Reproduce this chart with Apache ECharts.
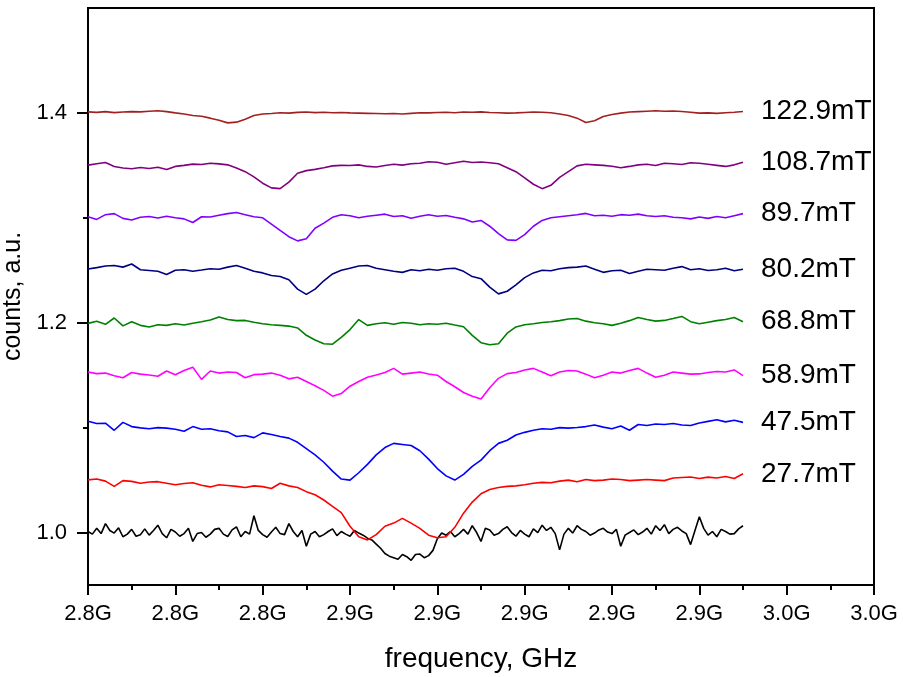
<!DOCTYPE html>
<html><head><meta charset="utf-8">
<script src="https://cdn.jsdelivr.net/npm/echarts@6/dist/echarts.min.js"></script>
<style>html,body{margin:0;padding:0;background:#fff}#c{width:903px;height:677px}</style>
</head><body><div id="c"></div>
<script>
// frequency grids (GHz) start at 2.800 and end at 2.950
const freqStart = 2.800;
const freqStepCoarse = 0.002;
const freqStepFine = 0.001;

// 0 mT trace, sampled every 0.001 GHz
const s_0mT = [1.0010,0.9985,1.0040,0.9990,1.0085,1.0020,0.9995,1.0045,0.9960,0.9985,1.0030,0.9965,0.9980,1.0035,0.9975,1.0020,1.0070,0.9990,0.9950,1.0030,1.0005,0.9965,0.9990,1.0040,0.9915,0.9990,1.0000,0.9955,0.9985,1.0030,1.0040,0.9985,0.9962,1.0025,1.0055,0.9960,1.0010,0.9985,1.0160,1.0020,0.9980,0.9955,1.0005,1.0050,0.9990,0.9980,1.0085,1.0010,0.9960,1.0020,0.9870,0.9985,1.0010,0.9960,0.9980,1.0010,1.0035,0.9970,1.0010,0.9985,0.9965,1.0020,0.9995,0.9975,0.9946,0.9930,0.9890,0.9850,0.9800,0.9775,0.9760,0.9745,0.9790,0.9770,0.9735,0.9790,0.9795,0.9760,0.9780,0.9830,0.9940,0.9995,0.9975,1.0010,0.9960,0.9990,1.0030,0.9985,1.0065,1.0000,0.9915,1.0040,1.0025,0.9975,0.9990,1.0030,1.0055,1.0000,0.9965,1.0020,0.9985,0.9960,1.0035,1.0000,1.0070,1.0020,1.0050,0.9990,0.9835,0.9985,1.0040,0.9995,1.0065,1.0030,1.0010,0.9975,0.9995,1.0025,1.0040,1.0005,0.9990,1.0030,0.9870,0.9975,1.0000,1.0025,0.9980,1.0005,1.0040,0.9985,1.0065,1.0020,1.0075,0.9990,1.0030,1.0050,1.0015,0.9990,0.9885,1.0020,1.0150,1.0040,0.9975,1.0010,0.9960,1.0030,1.0010,0.9985,0.9990,1.0035,1.0065];
// other traces, sampled every 0.002 GHz
const s_27_7 = [1.0502,1.0510,1.0490,1.0440,1.0495,1.0488,1.0470,1.0482,1.0485,1.0470,1.0455,1.0468,1.0475,1.0450,1.0435,1.0455,1.0448,1.0440,1.0430,1.0445,1.0438,1.0420,1.0470,1.0445,1.0430,1.0390,1.0360,1.0310,1.0250,1.0190,1.0060,0.9960,0.9930,0.9980,1.0060,1.0090,1.0135,1.0090,1.0040,0.9975,0.9950,0.9960,1.0050,1.0185,1.0290,1.0370,1.0410,1.0430,1.0440,1.0445,1.0455,1.0470,1.0478,1.0475,1.0490,1.0500,1.0485,1.0505,1.0495,1.0500,1.0510,1.0505,1.0495,1.0500,1.0505,1.0500,1.0495,1.0520,1.0525,1.0530,1.0515,1.0528,1.0520,1.0535,1.0515,1.0560];
const s_47_5 = [1.1060,1.1040,1.1042,1.0975,1.1050,1.1010,1.0998,1.0990,1.1000,1.0995,1.0985,1.0965,1.1010,1.0985,1.0990,1.0970,1.0960,1.0915,1.0925,1.0905,1.0950,1.0935,1.0915,1.0900,1.0860,1.0800,1.0740,1.0670,1.0585,1.0510,1.0500,1.0570,1.0650,1.0740,1.0810,1.0850,1.0840,1.0830,1.0780,1.0700,1.0610,1.0540,1.0500,1.0555,1.0630,1.0690,1.0780,1.0850,1.0880,1.0930,1.0955,1.0975,1.0990,1.0985,1.1000,1.0995,1.1002,1.1010,1.1025,1.1005,1.0990,1.1015,1.0975,1.1030,1.1020,1.1035,1.1030,1.1040,1.1025,1.1020,1.1045,1.1060,1.1075,1.1055,1.1070,1.1050];
const s_58_9 = [1.1530,1.1515,1.1520,1.1495,1.1475,1.1525,1.1510,1.1502,1.1490,1.1540,1.1505,1.1545,1.1575,1.1460,1.1540,1.1520,1.1530,1.1525,1.1475,1.1505,1.1510,1.1520,1.1500,1.1465,1.1480,1.1440,1.1400,1.1355,1.1300,1.1325,1.1395,1.1440,1.1480,1.1502,1.1525,1.1565,1.1510,1.1520,1.1530,1.1512,1.1500,1.1440,1.1390,1.1335,1.1300,1.1272,1.1380,1.1470,1.1515,1.1525,1.1550,1.1565,1.1530,1.1495,1.1530,1.1545,1.1540,1.1510,1.1475,1.1500,1.1530,1.1520,1.1545,1.1565,1.1520,1.1480,1.1500,1.1530,1.1520,1.1510,1.1512,1.1525,1.1535,1.1530,1.1550,1.1495];
const s_68_8 = [1.1994,1.2015,1.1985,1.2045,1.1970,1.2010,1.1975,1.1960,1.1980,1.1975,1.1990,1.1978,1.1995,1.2010,1.2026,1.2055,1.2030,1.2020,1.2022,1.2005,1.1990,1.1980,1.1975,1.1968,1.1950,1.1880,1.1835,1.1800,1.1795,1.1860,1.1935,1.2030,1.1975,1.1990,1.2000,1.1985,1.2002,1.1995,1.1980,1.1990,1.1985,1.1995,1.1978,1.1962,1.1880,1.1810,1.1790,1.1800,1.1900,1.1960,1.1980,1.1990,1.2002,1.2010,1.2020,1.2035,1.2040,1.2015,1.2000,1.1990,1.1975,1.1995,1.2020,1.2050,1.2030,1.2015,1.2022,1.2040,1.2060,1.2010,1.1990,1.2005,1.2020,1.2030,1.2050,1.2010];
const s_80_2 = [1.2512,1.2525,1.2540,1.2545,1.2530,1.2560,1.2505,1.2498,1.2490,1.2460,1.2500,1.2505,1.2490,1.2502,1.2515,1.2510,1.2530,1.2545,1.2520,1.2490,1.2475,1.2450,1.2440,1.2410,1.2320,1.2270,1.2320,1.2400,1.2465,1.2500,1.2520,1.2540,1.2545,1.2520,1.2505,1.2490,1.2480,1.2505,1.2495,1.2510,1.2500,1.2515,1.2520,1.2490,1.2440,1.2420,1.2340,1.2275,1.2300,1.2360,1.2430,1.2475,1.2500,1.2495,1.2515,1.2525,1.2530,1.2540,1.2510,1.2480,1.2495,1.2500,1.2470,1.2490,1.2510,1.2505,1.2500,1.2520,1.2535,1.2505,1.2515,1.2498,1.2505,1.2520,1.2495,1.2510];
const s_89_7 = [1.3010,1.2985,1.3030,1.3040,1.2995,1.2980,1.3005,1.3012,1.2998,1.3015,1.3000,1.2990,1.2955,1.3010,1.3008,1.3025,1.3040,1.3050,1.3030,1.3010,1.3000,1.2940,1.2880,1.2820,1.2780,1.2800,1.2900,1.2950,1.3005,1.3030,1.3020,1.3000,1.3015,1.3025,1.3035,1.3012,1.3020,1.2995,1.3015,1.3030,1.3015,1.3022,1.3005,1.2990,1.2960,1.2975,1.2920,1.2850,1.2790,1.2785,1.2840,1.2920,1.2975,1.3000,1.3010,1.3020,1.3030,1.3042,1.3020,1.3025,1.3015,1.3030,1.3025,1.3035,1.3020,1.3012,1.3020,1.3005,1.3000,1.2990,1.3008,1.2995,1.3012,1.3000,1.3020,1.3040];
const s_108_7 = [1.3502,1.3515,1.3528,1.3490,1.3475,1.3468,1.3480,1.3470,1.3482,1.3460,1.3490,1.3500,1.3512,1.3508,1.3520,1.3514,1.3505,1.3475,1.3440,1.3390,1.3330,1.3285,1.3278,1.3340,1.3425,1.3450,1.3462,1.3478,1.3495,1.3500,1.3498,1.3505,1.3490,1.3485,1.3498,1.3510,1.3502,1.3515,1.3520,1.3535,1.3530,1.3510,1.3525,1.3540,1.3528,1.3532,1.3525,1.3515,1.3478,1.3440,1.3380,1.3320,1.3278,1.3310,1.3385,1.3440,1.3495,1.3510,1.3505,1.3500,1.3492,1.3478,1.3490,1.3505,1.3510,1.3498,1.3520,1.3515,1.3508,1.3525,1.3520,1.3510,1.3500,1.3490,1.3505,1.3530];
const s_122_9 = [1.4010,1.4005,1.4012,1.4003,1.4008,1.4012,1.4010,1.4016,1.4020,1.4012,1.4000,1.3990,1.3976,1.3968,1.3950,1.3930,1.3905,1.3912,1.3940,1.3975,1.3990,1.3995,1.4002,1.3998,1.4005,1.4008,1.4003,1.4006,1.4002,1.4004,1.4000,1.3998,1.3996,1.3994,1.3992,1.3994,1.3990,1.3996,1.4002,1.4000,1.4004,1.4006,1.4002,1.4008,1.4006,1.4010,1.4004,1.4002,1.3998,1.4000,1.4004,1.4008,1.4006,1.4002,1.3990,1.3975,1.3950,1.3908,1.3925,1.3965,1.3985,1.3998,1.4008,1.4012,1.4016,1.4020,1.4016,1.4018,1.4014,1.4006,1.3998,1.4000,1.3996,1.4002,1.4006,1.4014];

const seriesData = [s_0mT, s_27_7, s_47_5, s_58_9, s_68_8, s_80_2, s_89_7, s_108_7, s_122_9];
const seriesSteps = [freqStepFine, freqStepCoarse, freqStepCoarse, freqStepCoarse, freqStepCoarse, freqStepCoarse, freqStepCoarse, freqStepCoarse, freqStepCoarse];
const seriesNames = ['0mT','27.7mT','47.5mT','58.9mT','68.8mT','80.2mT','89.7mT','108.7mT','122.9mT'];
const seriesLabels = ['', '27.7mT','47.5mT','58.9mT','68.8mT','80.2mT','89.7mT','108.7mT','122.9mT'];
const seriesColors = ['#000000','#ff0000','#0000ff','#ff00ff','#008000','#000080','#8000ff','#800080','#a32020'];

const xTickLabels = ['2.8G','2.8G','2.8G','2.9G','2.9G','2.9G','2.9G','2.9G','3.0G','3.0G'];
const yTickValues = [1.0, 1.2, 1.4];
const yTickLabels = ['1.0','1.2','1.4'];
const yMinorTickValues = [1.1, 1.3];

const FONT = '"Liberation Sans", Arial, sans-serif';

const series = seriesData.map((vals, k) => ({
  name: seriesNames[k],
  type: 'line',
  showSymbol: false,
  symbol: 'none',
  animation: false,
  data: vals.map((v, i) => [+(freqStart + i * seriesSteps[k]).toFixed(4), v]),
  lineStyle: { color: seriesColors[k], width: 1.6 },
  itemStyle: { color: seriesColors[k] },
  endLabel: {
    show: seriesLabels[k] !== '',
    formatter: () => seriesLabels[k],
    color: '#000',
    fontSize: 28,
    fontFamily: FONT,
    distance: 18
  }
}));

const chart = echarts.init(document.getElementById('c'), null, { renderer: 'canvas' });
chart.setOption({
  animation: false,
  backgroundColor: '#fff',
  grid: { left: 88, right: 29, top: 8, bottom: 92, show: true, borderColor: '#000', borderWidth: 2,
          containLabel: false, outerBoundsMode: 'none' },
  xAxis: [{
    type: 'value', min: 2.80, max: 2.98, interval: 0.02,
    name: 'frequency, GHz', nameLocation: 'middle', nameGap: 60,
    nameTextStyle: { fontSize: 28, fontFamily: FONT, color: '#000' },
    axisLine: { show: true, lineStyle: { color: '#000', width: 2 } },
    axisTick: { show: true, inside: false, length: 10, lineStyle: { color: '#000', width: 2 } },
    minorTick: { show: true, splitNumber: 2, length: 5, lineStyle: { color: '#000', width: 2 } },
    axisLabel: { interval: 0, margin: 18, fontSize: 22, fontFamily: FONT, color: '#000',
      formatter: (v, idx) => xTickLabels[idx] !== undefined ? xTickLabels[idx] : '' },
    splitLine: { show: false }, minorSplitLine: { show: false }
  }],
  yAxis: [{
    type: 'value', min: 0.95, max: 1.5, position: 'left',
    name: 'counts, a.u.', nameLocation: 'middle', nameGap: 44, nameRotate: 90,
    nameTextStyle: { fontSize: 25, fontFamily: FONT, color: '#000' },
    axisLine: { show: true, lineStyle: { color: '#000', width: 2 } },
    axisTick: { show: true, inside: false, length: 11, customValues: yTickValues, lineStyle: { color: '#000', width: 2 } },
    axisLabel: { margin: 21, fontSize: 22, fontFamily: FONT, color: '#000', customValues: yTickValues,
      formatter: (v) => { const j = yTickValues.findIndex(t => Math.abs(t - v) < 1e-6); return j >= 0 ? yTickLabels[j] : ''; } },
    splitLine: { show: false }
  }, {
    type: 'value', min: 0.95, max: 1.5, position: 'left', offset: 0,
    axisLine: { show: false },
    axisTick: { show: true, inside: false, length: 5, customValues: yMinorTickValues, lineStyle: { color: '#000', width: 2 } },
    axisLabel: { show: false },
    splitLine: { show: false }
  }],
  series: series
});
</script>
</body></html>
